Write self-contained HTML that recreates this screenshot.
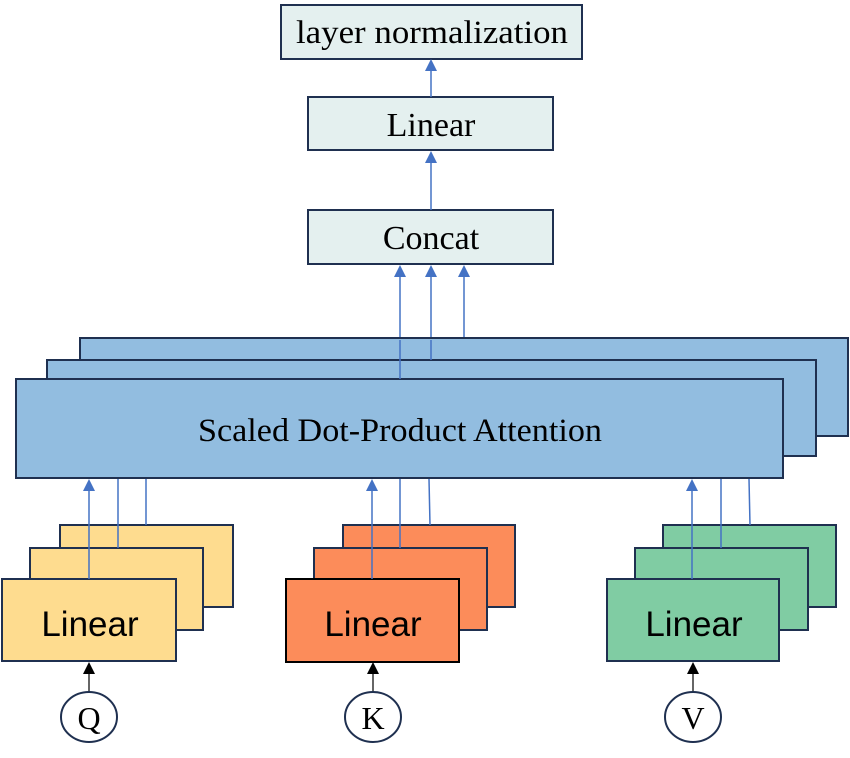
<!DOCTYPE html>
<html><head><meta charset="utf-8"><style>html,body{margin:0;padding:0;background:#fff}svg{display:block}</style></head>
<body>
<svg width="850" height="758" viewBox="0 0 850 758" xmlns="http://www.w3.org/2000/svg">
<g font-family="Liberation Serif, serif" fill="#000">
<rect x="281" y="5" width="301" height="54" fill="#e4f0ef" stroke="#1f3050" stroke-width="2"/>
<text x="432" y="43" font-size="33" text-anchor="middle" textLength="272" lengthAdjust="spacingAndGlyphs">layer normalization</text>
<rect x="308" y="97" width="245" height="53" fill="#e4f0ef" stroke="#1f3050" stroke-width="2"/>
<text x="431" y="136" font-size="34" text-anchor="middle">Linear</text>
<rect x="308" y="210" width="245" height="54" fill="#e4f0ef" stroke="#1f3050" stroke-width="2"/>
<text x="431" y="249" font-size="34" text-anchor="middle">Concat</text>
</g>
<g stroke="#4472c4" stroke-width="1.5">
<line x1="431" y1="97" x2="431" y2="68"/>
<line x1="431" y1="210" x2="431" y2="160"/>
<line x1="400" y1="379" x2="400" y2="274"/>
<line x1="431" y1="360" x2="431" y2="274"/>
<line x1="464" y1="338" x2="464" y2="274"/>
</g>
<g fill="#4472c4">
<polygon points="425,71 437,71 431,59"/>
<polygon points="425,163 437,163 431,151"/>
<polygon points="394,277 406,277 400,265"/>
<polygon points="425,277 437,277 431,265"/>
<polygon points="458,277 470,277 464,265"/>
</g>
<rect x="80" y="338" width="768" height="98" fill="#92bde0" stroke="#1f3050" stroke-width="2"/>
<rect x="47" y="360" width="769" height="96" fill="#92bde0" stroke="#1f3050" stroke-width="2"/>
<rect x="16" y="379" width="767" height="99" fill="#92bde0" stroke="#1f3050" stroke-width="2"/>
<g stroke="#4472c4" stroke-width="1.5">
<line x1="400" y1="379" x2="400" y2="340"/>
<line x1="431" y1="360" x2="431" y2="340"/>
</g>
<text x="400" y="441" font-family="Liberation Serif, serif" font-size="33" text-anchor="middle" textLength="404" lengthAdjust="spacingAndGlyphs">Scaled Dot-Product Attention</text>
<rect x="60" y="525" width="173" height="82" fill="#fedc8f" stroke="#1f3050" stroke-width="2"/>
<rect x="30" y="548" width="173" height="82" fill="#fedc8f" stroke="#1f3050" stroke-width="2"/>
<rect x="2" y="579" width="174" height="82" fill="#fedc8f" stroke="#1f3050" stroke-width="2"/>
<rect x="343" y="525" width="172" height="82" fill="#fc8c5a" stroke="#1f3050" stroke-width="2"/>
<rect x="314" y="548" width="173" height="82" fill="#fc8c5a" stroke="#1f3050" stroke-width="2"/>
<rect x="286" y="579" width="173" height="83" fill="#fc8c5a" stroke="#000" stroke-width="2"/>
<rect x="663" y="525" width="173" height="82" fill="#80cca3" stroke="#1f3050" stroke-width="2"/>
<rect x="635" y="548" width="173" height="82" fill="#80cca3" stroke="#1f3050" stroke-width="2"/>
<rect x="607" y="579" width="172" height="82" fill="#80cca3" stroke="#1f3050" stroke-width="2"/>
<g stroke="#4472c4" stroke-width="1.5">
<line x1="89" y1="579" x2="89" y2="488"/>
<line x1="118" y1="548" x2="118" y2="479"/>
<line x1="146" y1="525" x2="146" y2="479"/>
<line x1="372" y1="579" x2="372" y2="488"/>
<line x1="400" y1="548" x2="400" y2="479"/>
<line x1="430" y1="525" x2="429" y2="479"/>
<line x1="692" y1="579" x2="692" y2="488"/>
<line x1="721" y1="548" x2="721" y2="479"/>
<line x1="750" y1="525" x2="749" y2="479"/>
</g>
<g fill="#4472c4">
<polygon points="83,491 95,491 89,479"/>
<polygon points="366,491 378,491 372,479"/>
<polygon points="686,491 698,491 692,479"/>
</g>
<g font-family="Liberation Sans, DejaVu Sans, sans-serif" font-size="35" text-anchor="middle" fill="#000">
<text x="90" y="636">Linear</text>
<text x="373" y="636">Linear</text>
<text x="694" y="636">Linear</text>
</g>
<g stroke="#333" stroke-width="1.5">
<line x1="89" y1="692" x2="89" y2="672"/>
<line x1="373" y1="692" x2="373" y2="672"/>
<line x1="693" y1="692" x2="693" y2="672"/>
</g>
<g fill="#000">
<polygon points="83,674 95,674 89,662"/>
<polygon points="367,674 379,674 373,662"/>
<polygon points="687,674 699,674 693,662"/>
</g>
<g fill="#fff" stroke="#1f3050" stroke-width="2">
<ellipse cx="89" cy="717" rx="28" ry="25"/>
<ellipse cx="373" cy="717" rx="28" ry="25"/>
<ellipse cx="693" cy="717" rx="28" ry="25"/>
</g>
<g font-family="Liberation Serif, serif" font-size="32" text-anchor="middle" fill="#000">
<text x="89" y="729">Q</text>
<text x="373" y="729">K</text>
<text x="693" y="729">V</text>
</g>
</svg>
</body></html>
